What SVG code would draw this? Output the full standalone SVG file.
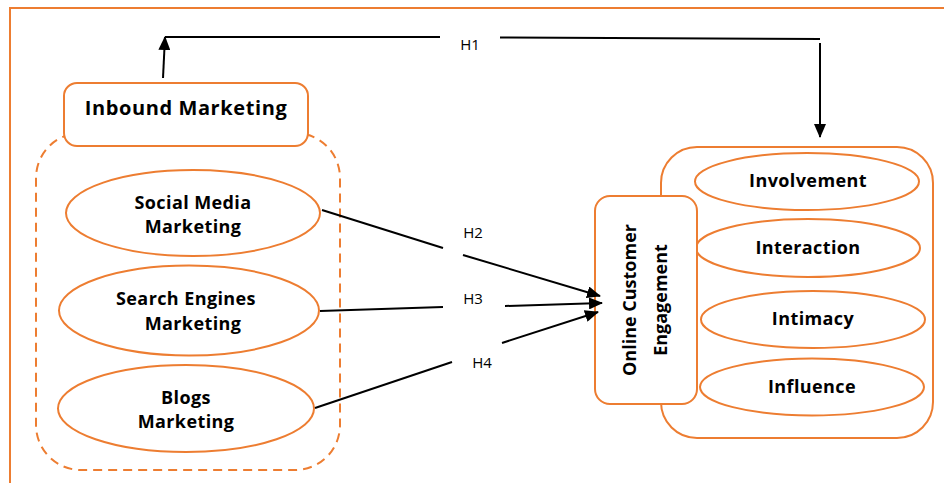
<svg xmlns="http://www.w3.org/2000/svg" width="944" height="483" viewBox="0 0 944 483">
<style>
.o{fill:#fff;stroke:#ED7D31;stroke-width:2}
.d{fill:none;stroke:#ED7D31;stroke-width:2;stroke-dasharray:9,6}
.t{font-family:"Open Sans","Liberation Sans",sans-serif;font-weight:bold;font-size:18px;letter-spacing:0.4px;fill:#000;text-anchor:middle}
.h{font-family:"Open Sans","Liberation Sans",sans-serif;font-size:15px;fill:#000;text-anchor:middle}
.c{fill:none;stroke:#000;stroke-width:2}
</style>
<defs>
<marker id="ar" markerUnits="userSpaceOnUse" markerWidth="14" markerHeight="12" refX="13" refY="6" orient="auto">
<path d="M0,0 L14,6 L0,12 Z" fill="#000"/>
</marker>
</defs>
<rect width="944" height="483" fill="#fff"/>
<rect x="10" y="8" width="960" height="500" fill="none" stroke="#ED7D31" stroke-width="2"/>
<g id="inbound-group">
<rect class="d" x="36" y="133" width="304" height="337" rx="45" ry="45"/>
</g>
<g id="inbound">
<rect class="o" x="64" y="83" width="244" height="63" rx="13" ry="13"/>
<text class="t" x="186" y="115" style="font-size:20px;letter-spacing:0.6px">Inbound Marketing</text>
</g>
<g id="social">
<ellipse class="o" cx="193" cy="213" rx="127" ry="43"/>
<text class="t" x="193" y="209">Social Media</text>
<text class="t" x="193" y="233">Marketing</text>
</g>
<g id="search">
<ellipse class="o" cx="189" cy="310.5" rx="130" ry="45"/>
<text class="t" x="186" y="305">Search Engines</text>
<text class="t" x="193" y="330">Marketing</text>
</g>
<g id="blogs">
<ellipse class="o" cx="186" cy="408.5" rx="128" ry="43.5"/>
<text class="t" x="186" y="404">Blogs</text>
<text class="t" x="186" y="428">Marketing</text>
</g>
<g id="dimensions">
<rect class="o" x="661" y="147" width="272" height="291" rx="36" ry="36"/>
</g>
<g id="involvement">
<ellipse class="o" cx="807" cy="181.5" rx="112" ry="28.5"/>
<text class="t" x="808" y="187">Involvement</text>
</g>
<g id="interaction">
<ellipse class="o" cx="808" cy="248" rx="112" ry="29"/>
<text class="t" x="808" y="254">Interaction</text>
</g>
<g id="intimacy">
<ellipse class="o" cx="813" cy="319.5" rx="112" ry="28.5"/>
<text class="t" x="813" y="325">Intimacy</text>
</g>
<g id="influence">
<ellipse class="o" cx="812" cy="387" rx="112" ry="28.5"/>
<text class="t" x="812" y="393">Influence</text>
</g>
<g id="engagement">
<rect class="o" x="595" y="196" width="102" height="208" rx="15" ry="15"/>
<text class="t" style="letter-spacing:0" transform="translate(636,300) rotate(-90)">Online Customer</text>
<text class="t" style="letter-spacing:0" transform="translate(667,300) rotate(-90)">Engagement</text>
</g>
<g id="connectors">
<path class="c" d="M163,78 L165,37" marker-end="url(#ar)"/>
<path class="c" d="M165,37 L440,37"/>
<path class="c" d="M500,37.5 L820,39"/>
<path class="c" d="M820,43 L820,137" marker-end="url(#ar)"/>
<path class="c" d="M322,210 L443,248"/>
<path class="c" d="M463,255 L600,296" marker-end="url(#ar)"/>
<path class="c" d="M320,311 L443,307"/>
<path class="c" d="M505,306 L602,303" marker-end="url(#ar)"/>
<path class="c" d="M315,408 L452,362"/>
<path class="c" d="M502,343 L598,312" marker-end="url(#ar)"/>
<text class="h" x="470" y="50">H1</text>
<text class="h" x="473" y="238">H2</text>
<text class="h" x="473" y="304">H3</text>
<text class="h" x="482" y="368">H4</text>
</g>
</svg>
